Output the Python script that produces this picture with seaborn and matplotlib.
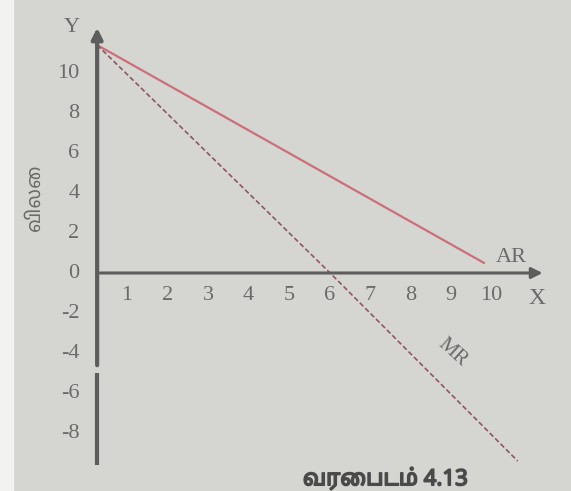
import matplotlib.pyplot as plt
import matplotlib.patheffects as pe
import seaborn as sns
import pandas as pd

sns.set_theme(style="white")
plt.rcParams["font.family"] = ["Liberation Serif", "DejaVu Serif"]

# values
ar_quantity = [0, 9.8]
ar = [11.4, 0.5]
mr_quantity = [0, 5.9, 10.65]
mr = [11.4, 0, -9.4]
x_ticks = [1, 2, 3, 4, 5, 6, 7, 8, 9, 10]
y_ticks = [10, 8, 6, 4, 2, 0, -2, -4, -6, -8]

df_ar = pd.DataFrame({"q": ar_quantity, "price": ar})
df_mr = pd.DataFrame({"q": mr_quantity, "price": mr})

bg = "#d5d6d2"
axis_col = "#5c5d5c"
text_col = "#6b6b6b"
tamil = ["Noto Sans Tamil", "Lohit Tamil", "Noto Sans", "DejaVu Sans"]

fig = plt.figure(figsize=(5.71, 4.91), dpi=100)
fig.patch.set_facecolor(bg)
ax = fig.add_axes([0, 0, 1, 1])
ax.set_facecolor(bg)
ax.set_xlim(-2.46, 12.0)
ax.set_ylim(-10.9, 13.65)
for s in ax.spines.values():
    s.set_visible(False)
ax.set_xticks([])
ax.set_yticks([])
ax.axvspan(-2.46, -2.13, color="#f2f2f0", zorder=0)

# axes drawn as arrows through the origin
ax.annotate("", xy=(11.35, 0), xytext=(0, 0),
            arrowprops=dict(arrowstyle="-|>", color=axis_col, lw=2.2,
                            mutation_scale=16))
ax.annotate("", xy=(0, 12.4), xytext=(0, -4.75),
            arrowprops=dict(arrowstyle="-|>", color=axis_col, lw=3,
                            mutation_scale=16))
ax.plot([0, 0], [-5.0, -9.6], color=axis_col, lw=3, solid_capstyle="butt")

sns.lineplot(data=df_ar, x="q", y="price", ax=ax, color="#cc6f7a", lw=1.6)
sns.lineplot(data=df_mr, x="q", y="price", ax=ax, color="#8e5862", lw=1.2,
             linestyle=(0, (3, 1.6)))
ax.set_xlabel("")
ax.set_ylabel("")

for t in x_ticks:
    ax.text(t * 1.025 - 0.265, -1.15, str(t), ha="center", va="center",
            fontsize=16, color=text_col)
for t in y_ticks:
    ax.text(-0.45, t - 0.05, str(t), ha="right", va="center",
            fontsize=16, color=text_col)

ax.text(-0.63, 12.25, "Y", ha="center", va="center", fontsize=16, color=text_col)
ax.text(11.15, -1.25, "X", ha="center", va="center", fontsize=17, color=text_col)
ax.text(10.5, 0.8, "AR", ha="center", va="center", fontsize=16, color=text_col)
ax.text(9.0, -4.0, "MR", ha="center", va="center", fontsize=15,
        color=text_col, rotation=-42)

ax.text(-1.57, 3.8, "விலை", ha="center", va="center", rotation=90,
        fontsize=14, color=text_col, family=tamil)
ax.text(7.3, -10.3, "வரைபடம் 4.13", ha="center", va="center",
        fontsize=16, fontweight="bold", color="#4a4a4a", family=tamil,
        path_effects=[pe.withStroke(linewidth=1.2, foreground="#4a4a4a")])

fig.savefig("out.png", dpi=100, facecolor=bg)
